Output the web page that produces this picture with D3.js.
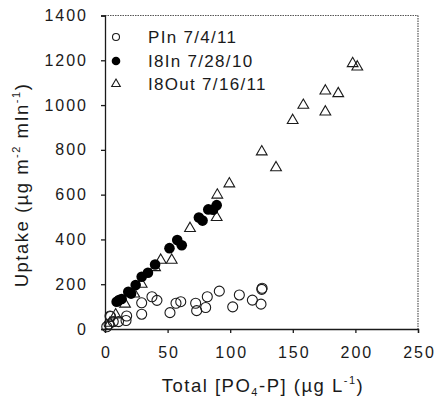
<!DOCTYPE html>
<html>
<head>
<meta charset="utf-8">
<script src="https://cdn.jsdelivr.net/npm/d3@7"></script>
<style>
  html, body { margin: 0; padding: 0; background: #fff; }
  svg { display: block; font-family: "Liberation Sans", Arial, sans-serif; }
</style>
</head>
<body>
<svg id="chart" width="435" height="409"></svg>
<script>
// PIn 7/4/11 (open circles): total PO4-P (µg/L) and uptake
const pinX = [1.4, 3.2, 4.4, 6.6, 10.8, 4, 17.3, 16.8, 29.3, 29.3, 37.5, 41.5, 51.9, 56.7, 60.5, 72.4, 73.2, 80.4, 81.7, 91.3, 102, 107.3, 117.7, 125.2, 125.5, 124.6];
const pinY = [10, 22, 56, 33, 33, 58, 58, 38, 66, 117, 144, 128, 73, 115, 122, 115, 82, 96, 144, 169, 99, 152, 129, 177, 182, 111];

// I8In 7/28/10 (filled circles)
const i8inX = [9.3, 11.2, 13.3, 18.6, 20.8, 24.5, 29.3, 34.3, 40, 51.5, 57.7, 61.3, 75, 77.9, 82.5, 86.3, 89.2];
const i8inY = [122, 129, 134, 166, 158, 196, 233, 251, 288, 361, 397, 374, 498, 484, 534, 533, 553];

// I8Out 7/16/11 (open triangles)
const i8outX = [8.5, 4, 16, 23.4, 29.3, 40, 44.5, 53.3, 67.9, 89.7, 89.2, 99.3, 125.2, 136.6, 149.9, 158.4, 176, 176, 186.3, 197.8, 201.5];
const i8outY = [67, 30, 115, 160, 204, 278, 311, 311, 453, 602, 502, 652, 795, 724, 935, 1003, 1067, 973, 1055, 1189, 1174];

const xTicks = [0, 50, 100, 150, 200, 250];
const yTicks = [0, 200, 400, 600, 800, 1000, 1200, 1400];
const legendLabels = ["PIn 7/4/11", "I8In 7/28/10", "I8Out 7/16/11"];

const ink = "#1a1a1a";
const svg = d3.select("#chart");
const x = d3.scaleLinear().domain([0, 250]).range([105, 418]);
const y = d3.scaleLinear().domain([0, 1400]).range([329, 15.5]);

// frame: dotted grey top/right
svg.append("line").attr("x1", x(0)).attr("x2", x(250)).attr("y1", y(1400)).attr("y2", y(1400))
  .attr("stroke", "#555").attr("stroke-width", 1.2).attr("stroke-dasharray", "1.5,1");
svg.append("line").attr("x1", x(250)).attr("x2", x(250)).attr("y1", y(1400)).attr("y2", y(0))
  .attr("stroke", "#555").attr("stroke-width", 1.2).attr("stroke-dasharray", "1.5,1");

const tickFont = g => g.selectAll("text")
  .attr("font-family", "Liberation Sans, Arial, sans-serif")
  .attr("font-size", 16).attr("fill", ink).style("letter-spacing", "2px");

svg.append("g").attr("transform", `translate(0,${y(0)})`)
  .call(d3.axisBottom(x).tickValues(xTicks).tickSize(4).tickPadding(14).tickFormat(d3.format("d")))
  .call(g => g.select(".domain").attr("stroke", ink).attr("stroke-width", 1.3))
  .call(g => g.selectAll(".tick line").attr("stroke", ink).attr("stroke-width", 1.3))
  .call(tickFont)
  .call(g => g.selectAll(".tick text").attr("dx", "1px"));

svg.append("g").attr("transform", `translate(${x(0)},0)`)
  .call(d3.axisLeft(y).tickValues(yTicks).tickSize(4).tickPadding(13).tickFormat(d3.format("d")))
  .call(g => g.select(".domain").attr("stroke", ink).attr("stroke-width", 1.3))
  .call(g => g.selectAll(".tick line").attr("stroke", ink).attr("stroke-width", 1.3))
  .call(tickFont);

// symbols
const tri = d3.symbol().type(d3.symbolTriangle).size(50);

const plot = svg.append("g");
plot.selectAll("circle.pin").data(d3.zip(pinX, pinY)).join("circle")
  .attr("class", "pin").attr("cx", d => x(d[0])).attr("cy", d => y(d[1])).attr("r", 5)
  .attr("fill", "none").attr("stroke", ink).attr("stroke-width", 1.1);

plot.selectAll("path.i8out").data(d3.zip(i8outX, i8outY)).join("path")
  .attr("class", "i8out").attr("d", tri)
  .attr("transform", d => `translate(${x(d[0])},${y(d[1]) + 0.8})`)
  .attr("fill", "none").attr("stroke", ink).attr("stroke-width", 1.1);

plot.selectAll("circle.i8in").data(d3.zip(i8inX, i8inY)).join("circle")
  .attr("class", "i8in").attr("cx", d => x(d[0])).attr("cy", d => y(d[1])).attr("r", 5.3)
  .attr("fill", "#000");

// legend
const leg = svg.append("g");
const rows = [37, 61, 84];
leg.append("circle").attr("cx", 116).attr("cy", rows[0]).attr("r", 3.5)
  .attr("fill", "none").attr("stroke", ink).attr("stroke-width", 1.1);
leg.append("circle").attr("cx", 116).attr("cy", rows[1]).attr("r", 4.3).attr("fill", "#000");
leg.append("path").attr("d", d3.symbol().type(d3.symbolTriangle).size(32))
  .attr("transform", `translate(116,${rows[2]})`)
  .attr("fill", "none").attr("stroke", ink).attr("stroke-width", 1.1);
leg.selectAll("text").data(legendLabels).join("text")
  .attr("x", 148).attr("y", (d, i) => rows[i] + 6)
  .attr("font-size", 17).attr("fill", ink).style("letter-spacing", "1.3px")
  .text(d => d);

// axis titles
const xt = svg.append("text").attr("x", 263).attr("y", 392).attr("text-anchor", "middle")
  .attr("font-size", 18.5).attr("fill", ink).style("letter-spacing", "1.5px");
xt.append("tspan").text("Total [PO");
xt.append("tspan").attr("font-size", 11).attr("dy", 4).text("4");
xt.append("tspan").attr("dy", -4).text("-P] (\u00b5g L");
xt.append("tspan").attr("font-size", 11).attr("dy", -8).text("-1");
xt.append("tspan").attr("dy", 8).text(")");

const yt = svg.append("text").attr("transform", "translate(28,185) rotate(-90)")
  .attr("text-anchor", "middle").attr("font-size", 18.5).attr("fill", ink).style("letter-spacing", "1.5px");
yt.append("tspan").text("Uptake (\u00b5g m");
yt.append("tspan").attr("font-size", 11).attr("dy", -8).text("-2");
yt.append("tspan").attr("dy", 8).text(" mIn");
yt.append("tspan").attr("font-size", 11).attr("dy", -8).text("-1");
yt.append("tspan").attr("dy", 8).text(")");
</script>
</body>
</html>
